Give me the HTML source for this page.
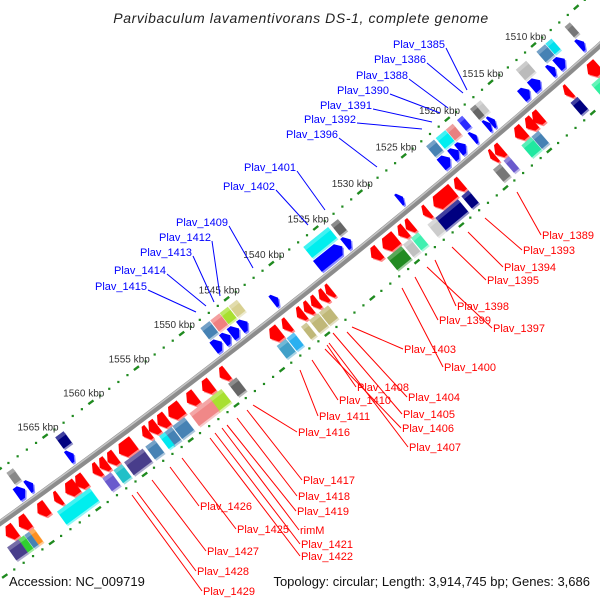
<!DOCTYPE html>
<html><head><meta charset="utf-8"><style>
html,body{margin:0;padding:0;background:#fff;}
svg{display:block;font-family:"Liberation Sans",sans-serif;}
</style></head><body>
<svg id="map" width="600" height="600" viewBox="0 0 600 600" xmlns="http://www.w3.org/2000/svg">
<rect width="600" height="600" fill="#fff"/>
<g id="dots"></g>
<g id="backbone"></g>
<g id="genes"></g>
<g id="ticks"></g>
<g id="labels"></g>
<text x="301" y="23" text-anchor="middle" font-size="14" font-style="italic" fill="#222" letter-spacing="0.6">Parvibaculum lavamentivorans DS-1, complete genome</text>
<text x="9" y="586" font-size="13" fill="#111">Accession: NC_009719</text>
<text x="590" y="586" text-anchor="end" font-size="13" fill="#111">Topology: circular; Length: 3,914,745 bp; Genes: 3,686</text>
</svg>
<script>
// ---- data (kbp) ----
// track: 0 = upper arrows (blue), 1 = upper boxes, 2 = lower arrows (red), 3 = lower boxes
const geneCenter = [
 1506.8,1509.2,1510.2,1512.1,1513.3,1517.1,1517.6,1519.2,1520.6,1521.4,1522.5,1527.6,1533.6,1535.6,1541.7,1545.2,1546.2,1547.1,1548.1,1564.2,1568.6,1569.6,
 1506.6,1508.8,1509.7,1512.0,1517.0,1517.6,1519.1,1520.3,1521.3,1522.5,1533.4,1535.5,1544.8,1545.8,1546.8,1547.9,1563.9,1569.3,
 1507.5,1510.5,1514.0,1514.8,1516.0,1518.4,1519.1,1523.0,1524.7,1526.7,1528.6,1529.4,1530.8,1532.4,1537.6,1538.3,1539.2,1540.0,1540.8,1542.4,1543.6,1549.3,1551.1,1552.8,1554.6,1556.0,1557.0,1557.8,1559.9,1561.5,1562.4,1563.2,1564.9,1565.9,1567.4,1569.0,1571.0,1572.4,
 1508.0,1510.5,1515.0,1516.0,1518.3,1519.4,1523.0,1525.1,1526.8,1528.7,1529.6,1531.0,1538.9,1540.0,1541.1,1542.6,1543.6,1549.0,1550.9,1552.6,1554.9,1556.1,1556.7,1558.0,1559.8,1561.5,1562.7,1566.3,1570.8,1571.3,1571.9,1572.8
];
const geneLength = [
 0.6,0.9,0.6,1.0,0.9,0.5,0.5,0.5,0.8,0.8,1.0,0.5,0.7,2.8,0.6,0.8,0.9,0.8,0.9,0.6,0.6,0.9,
 0.6,0.7,1.0,1.2,0.6,0.6,0.6,0.8,1.1,0.9,0.8,2.8,0.9,0.9,1.0,1.0,0.9,0.7,
 1.2,0.6,0.9,0.9,1.0,0.8,0.5,0.8,2.2,0.6,0.7,0.8,1.5,0.9,0.6,0.7,0.7,0.7,0.7,0.7,1.1,0.8,1.0,1.0,1.4,1.0,0.9,0.7,1.6,0.9,0.8,0.7,1.0,1.2,0.6,1.0,1.0,1.0,
 1.0,0.8,0.8,1.1,0.6,0.8,0.8,2.6,0.9,0.8,0.8,1.6,1.0,1.0,0.6,0.8,1.0,0.9,1.4,2.2,1.3,0.9,0.6,1.0,2.0,0.9,0.9,3.5,0.5,0.5,0.6,1.2
];
const geneTrack = [
 0,0,0,0,0,0,0,0,0,0,0,0,0,0,0,0,0,0,0,0,0,0,
 1,1,1,1,1,1,1,1,1,1,1,1,1,1,1,1,1,1,
 2,2,2,2,2,2,2,2,2,2,2,2,2,2,2,2,2,2,2,2,2,2,2,2,2,2,2,2,2,2,2,2,2,2,2,2,2,2,
 3,3,3,3,3,3,3,3,3,3,3,3,3,3,3,3,3,3,3,3,3,3,3,3,3,3,3,3,3,3,3,3
];
const boxColors = [
 "#777777","#00e0ee","#4682b4","#bbbbbb","#c8c8c8","#666666","#2a2aff","#e88080","#00eef0","#4682b4","#666666","#00eeee","#d8d090","#a8e030","#f08080","#4682b4","#000080","#888888",
 "#30f0a0","#000080","#4682b4","#20e8a0","#6a5acd","#777777","#000080","#000080","#cccccc","#40f0b0","#c0c0c0","#228b22","#c0b878","#c0b878","#c0b878","#2ab0f0","#40a0c8","#666666","#a8e030","#f08888","#4682b4","#4682b4","#00e8f0","#4682b4","#483d8b","#20c0c8","#6a5acd","#00eeee","#ff9020","#4682b4","#30d030","#483d8b"
];
const tickKbp = [1510,1515,1520,1525,1530,1535,1540,1545,1550,1555,1560,1565];
const blueLabelNames = ["Plav_1385","Plav_1386","Plav_1388","Plav_1390","Plav_1391","Plav_1392","Plav_1396","Plav_1401","Plav_1402","Plav_1409","Plav_1412","Plav_1413","Plav_1414","Plav_1415"];
const redLabelNames = ["Plav_1389","Plav_1393","Plav_1394","Plav_1395","Plav_1398","Plav_1399","Plav_1397","Plav_1403","Plav_1400","Plav_1408","Plav_1404","Plav_1410","Plav_1405","Plav_1406","Plav_1411","Plav_1407","Plav_1416","Plav_1417","Plav_1418","Plav_1419","rimM","Plav_1421","Plav_1422","Plav_1425","Plav_1426","Plav_1427","Plav_1428","Plav_1429"];

// ---- layout (annotation placement, pixels) ----
const blueLabelPos = [[445,44,467,90],[426,59,463,93],[408,75,448,108],[389,90,440,113],[372,105,432,122],[356,119,422,129],[338,134,377,167],[296,167,325,210],[275,186,308,225],[228,222,253,268],[211,237,220,296],[192,252,214,302],[166,270,206,306],[147,286,196,312]];
const redLabelPos = [[542,235,517,192],[523,250,485,218],[504,267,468,232],[487,280,452,247],[457,306,435,260],[439,320,415,277],[493,328,427,267],[404,349,352,327],[444,367,402,288],[357,387,327,345],[408,397,347,332],[339,400,312,360],[403,414,333,333],[402,428,325,349],[319,416,300,370],[409,447,329,343],[298,432,253,405],[303,480,247,410],[298,496,237,418],[297,511,227,425],[300,530,222,428],[301,544,215,433],[301,556,210,438],[237,529,182,458],[200,506,170,467],[207,551,152,480],[197,571,137,492],[203,591,132,495]];

const NS = "http://www.w3.org/2000/svg";
// circle through three backbone points
const P1=[0,523],P2=[300,297],P3=[600,45];
function circ(a,b,c){const d=2*(a[0]*(b[1]-c[1])+b[0]*(c[1]-a[1])+c[0]*(a[1]-b[1]));
 const ux=((a[0]**2+a[1]**2)*(b[1]-c[1])+(b[0]**2+b[1]**2)*(c[1]-a[1])+(c[0]**2+c[1]**2)*(a[1]-b[1]))/d;
 const uy=((a[0]**2+a[1]**2)*(c[0]-b[0])+(b[0]**2+b[1]**2)*(a[0]-c[0])+(c[0]**2+c[1]**2)*(b[0]-a[0]))/d;
 return [ux,uy,Math.hypot(a[0]-ux,a[1]-uy)];}
const [CX,CY,R]=circ(P1,P2,P3);
const a0=Math.atan2(P1[1]-CY,P1[0]-CX), a3=Math.atan2(P3[1]-CY,P3[0]-CX);
const sgn=Math.sign(a3-a0);
const PXPK=11.45;
function sOf(k){return 374-(k-1540)*PXPK;}
function pt(k,off){const a=a0+sgn*sOf(k)/R;const r=R+off;return [CX+r*Math.cos(a),CY+r*Math.sin(a)];}
function P(arr){return arr.map(p=>p[0].toFixed(1)+","+p[1].toFixed(1)).join(" ");}

// backbone
const bb=document.getElementById("backbone");
const bpts=[];for(let k=1498;k<=1576;k+=1)bpts.push(pt(k,0));
let el=document.createElementNS(NS,"polyline");
el.setAttribute("points",P(bpts));el.setAttribute("fill","none");el.setAttribute("stroke","#8c8c8c");el.setAttribute("stroke-width","6");


bb.appendChild(el);
const hpts=[];for(let k=1498;k<=1576;k+=1)hpts.push(pt(k,-1.8));
el=document.createElementNS(NS,"polyline");
el.setAttribute("points",P(hpts));el.setAttribute("fill","none");el.setAttribute("stroke","#c4c4c4");el.setAttribute("stroke-width","1.5");


bb.appendChild(el);

// dotted scale lines
const dg=document.getElementById("dots");
[-44,46].forEach(off=>{
 for(let k=1495;k<=1580;k++){
  if(k%5===0){const a=pt(k-0.28,off),b=pt(k+0.28,off);
   const l=document.createElementNS(NS,"line");
   l.setAttribute("x1",a[0]);l.setAttribute("y1",a[1]);l.setAttribute("x2",b[0]);l.setAttribute("y2",b[1]);
   l.setAttribute("stroke","#1f8a1f");l.setAttribute("stroke-width","2.4");
   
   
   dg.appendChild(l);
  } else {const c=pt(k,off);
   const r=document.createElementNS(NS,"rect");
   r.setAttribute("x",c[0]-1);r.setAttribute("y",c[1]-1);r.setAttribute("width",2.2);r.setAttribute("height",2.2);r.setAttribute("fill","#1f8a1f");
   
   
   dg.appendChild(r);}
 }
});

// tick labels
const tg=document.getElementById("ticks");
tickKbp.forEach(k=>{const c=pt(k,-56);
 const t=document.createElementNS(NS,"text");
 t.setAttribute("x",c[0]);t.setAttribute("y",c[1]+4);t.setAttribute("text-anchor","middle");t.setAttribute("font-size","10");t.setAttribute("fill","#333");
 t.textContent=k+" kbp";
 
 
 tg.appendChild(t);});

// genes
const gg=document.getElementById("genes");
const bands=[[-20,-6],[-37,-23],[6,22],[24,40]];
let bi=0;
geneCenter.forEach((c,i)=>{
 const tr=geneTrack[i],len=geneLength[i],k1=c-len/2,k2=c+len/2;
 const [o1,o2]=bands[tr];const om=(o1+o2)/2;
 let pts,col;
 if(tr===0||tr===2){
  const hl=Math.min(0.45,len*0.6);
  if(tr===2){col="#ff0000";pts=[pt(k1,o1),pt(k2-hl,o1),pt(k2,om),pt(k2-hl,o2),pt(k1,o2)];}
  else{col="#0000ff";pts=[pt(k2,o1),pt(k1+hl,o1),pt(k1,om),pt(k1+hl,o2),pt(k2,o2)];}
 } else {col=boxColors[bi++];pts=[pt(k1,o1),pt(k2,o1),pt(k2,o2),pt(k1,o2)];}
 const sh=document.createElementNS(NS,"polygon");
 sh.setAttribute("points",P(pts.map(p=>[p[0]+1.5,p[1]+1.5])));sh.setAttribute("fill",col);sh.setAttribute("opacity","0.45");
 
 
 gg.appendChild(sh);
 const g=document.createElementNS(NS,"polygon");
 g.setAttribute("points",P(pts));g.setAttribute("fill",col);
 
 
 gg.appendChild(g);
 if(tr===1||tr===3){const hi=document.createElementNS(NS,"polygon");
  hi.setAttribute("points",P([pt(k1,o1),pt(k2,o1),pt(k2,o1+4),pt(k1,o1+4)]));hi.setAttribute("fill","#fff");hi.setAttribute("opacity","0.25");
  
  
  gg.appendChild(hi);}
});

// labels
const lg=document.getElementById("labels");
blueLabelNames.forEach((n,i)=>{const [xr,yc,ex,ey]=blueLabelPos[i];
 const l=document.createElementNS(NS,"line");
 l.setAttribute("x1",xr+1);l.setAttribute("y1",yc+4);l.setAttribute("x2",ex);l.setAttribute("y2",ey);l.setAttribute("stroke","#0000ff");l.setAttribute("stroke-width","1");
 
 
 lg.appendChild(l);
 const t=document.createElementNS(NS,"text");
 t.setAttribute("x",xr);t.setAttribute("y",yc+4);t.setAttribute("text-anchor","end");t.setAttribute("font-size","11");t.setAttribute("fill","#0000ff");
 t.textContent=n;
 
 
 lg.appendChild(t);});
redLabelNames.forEach((n,i)=>{const [xl,yc,ex,ey]=redLabelPos[i];
 const l=document.createElementNS(NS,"line");
 l.setAttribute("x1",xl-1);l.setAttribute("y1",yc);l.setAttribute("x2",ex);l.setAttribute("y2",ey);l.setAttribute("stroke","#ff0000");l.setAttribute("stroke-width","1");
 
 
 lg.appendChild(l);
 const t=document.createElementNS(NS,"text");
 t.setAttribute("x",xl);t.setAttribute("y",yc+4);t.setAttribute("font-size","11");t.setAttribute("fill","#ff0000");
 t.textContent=n;
 
 
 lg.appendChild(t);});
</script>
</body></html>
